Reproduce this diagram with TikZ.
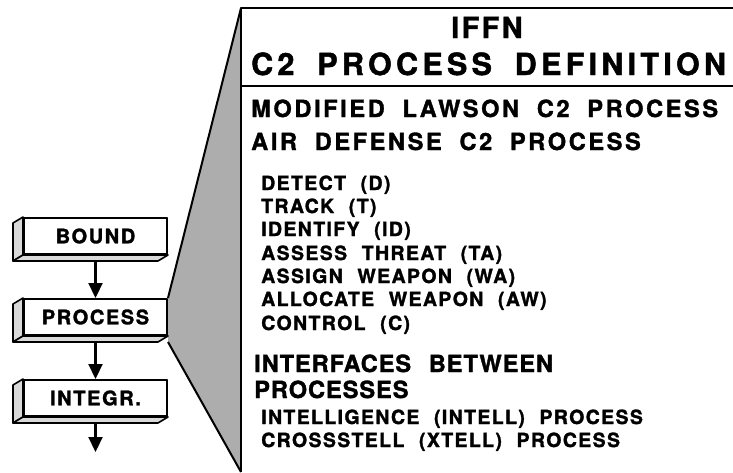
\documentclass[tikz,border=0pt]{standalone}
\usepackage{fontspec}
\setmainfont{TeX Gyre Heros}[FakeBold=1.5]
\usetikzlibrary{positioning,arrows.meta}

\newcommand{\spaced}[2]{\bfseries\fontsize{#1}{#1}\selectfont\addfontfeatures{LetterSpace=#2}\spaceskip=.75em\relax}

\begin{document}
\begin{tikzpicture}[x=1pt,y=-1pt,line join=round,
  stage/.style={draw,line width=2pt,fill=white,minimum width=143pt,minimum height=36pt,
    inner sep=0pt,font=\spaced{20}{8}},
  side/.style={draw,line width=1.6pt,fill=black!15},
  flow/.style={line width=2.2pt,-{Triangle[length=15pt,width=14pt]}},
  title/.style={inner sep=0pt,anchor=base,font=\spaced{29}{8}},
  head/.style={inner sep=0pt,anchor=base west,font=\spaced{30.5}{14}},
  sub/.style={inner sep=0pt,anchor=base west,font=\spaced{23.6}{11}},
  group/.style={inner sep=0pt,anchor=base west,font=\spaced{23.6}{4}},
  item/.style={inner sep=0pt,anchor=base west,font=\spaced{19.5}{7}}]

  \useasboundingbox (0,0) rectangle (733,472);

  % stages on the left
  \node (bound) [stage] at (95.5,236) {BOUND};
  \node (process) [stage, below=43pt of bound] {PROCESS};
  \node (integr) [stage, below=43pt of process] {INTEGR.};
  \coordinate (out) at (95.5,452);

  % funnel from PROCESS into the definition
  \coordinate (top) at (241,8);
  \coordinate (foot) at (241,472);
  \fill[black!32] (top) -- (process.north east) -- ([yshift=-6pt]process.south east) -- (foot) -- cycle;
  \draw[line width=2pt] (top) -- (process.north east);
  \draw[line width=2pt] ([yshift=-6pt]process.south east) -- (foot);

  \foreach \n in {bound,process,integr} {
    \node[stage] at (\n) {};
    \draw[side] (\n.north west) -- ++(-10,6) -- ([shift={(-10,6)}]\n.south west) -- (\n.south west) -- cycle;
    \draw[side] (\n.south west) -- ([shift={(-10,6)}]\n.south west) -- ([shift={(-10,6)}]\n.south east) -- (\n.south east) -- cycle;
  }
  \node [stage, draw=none, fill=none] at (bound) {BOUND};
  \node [stage, draw=none, fill=none] at (process) {PROCESS};
  \node [stage, draw=none, fill=none] at (integr) {INTEGR.};

  \draw[flow] ([yshift=-6pt]bound.south) -- (process.north);
  \draw[flow] ([yshift=-6pt]process.south) -- (integr.north);
  \draw[flow] ([yshift=-6pt]integr.south) -- (out);

  % definition panel
  \draw[line width=2.4pt] (733,8) -- (top) -- (foot);
  \draw[line width=1.6pt] (241,86) -- (733,86);

  \node (iffn) [title] at (487,38) {IFFN};
  \node (c2def) [head] at (251,75) {C2 PROCESS DEFINITION};
  \node (lawson) [sub] at (251,117) {MODIFIED LAWSON C2 PROCESS};
  \node (airdef) [sub] at (251,150) {AIR DEFENSE C2 PROCESS};

  \node (detect) [item] at (261,190) {DETECT (D)};
  \node (track) [item] at (261,213) {TRACK (T)};
  \node (ident) [item] at (261,236) {IDENTIFY (ID)};
  \node (assess) [item] at (261,260) {ASSESS THREAT (TA)};
  \node (assign) [item] at (261,283) {ASSIGN WEAPON (WA)};
  \node (alloc) [item] at (261,306) {ALLOCATE WEAPON (AW)};
  \node (control) [item] at (261,330) {CONTROL (C)};

  \node (iface) [group] at (254,372) {INTERFACES BETWEEN};
  \node (procs) [group] at (254,398) {PROCESSES};
  \node (intell) [item] at (261,424) {INTELLIGENCE (INTELL) PROCESS};
  \node (xtell) [item] at (261,447) {CROSSSTELL (XTELL) PROCESS};

\end{tikzpicture}
\end{document}
